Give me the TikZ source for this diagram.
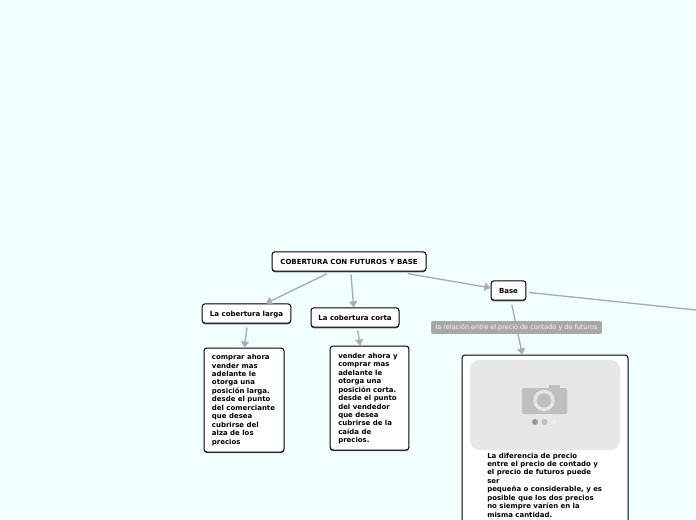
\documentclass[tikz,border=0pt]{standalone}
\usepackage{fontspec}
\setmainfont{DejaVu Sans}
\usetikzlibrary{arrows.meta,shadows}
\definecolor{bgc}{HTML}{F1FFFE}
\definecolor{edgec}{HTML}{A9ACAA}
\definecolor{labc}{HTML}{A8A8A8}
\definecolor{photoc}{HTML}{E7E7E8}
\definecolor{camc}{HTML}{BFBFC0}
\tikzset{
  x=0.75pt,y=-0.75pt,
  box/.style={draw=black,line width=0.75pt,fill=white,rounded corners=2.2pt,inner sep=0pt,
    drop shadow={shadow xshift=0pt,shadow yshift=-0.9pt,opacity=.7,fill=black!80}},
  titlebox/.style={box,font=\fontsize{5.25}{6}\selectfont\bfseries,align=center,text height=5.2pt,text depth=1pt},
  bodytxt/.style={font=\fontsize{5.22}{6.35}\selectfont\bfseries,align=left,anchor=north west,inner sep=0pt},
  conn/.style={draw=edgec,line width=1pt,-{Triangle[length=4.5pt,width=6pt]}},
  plain/.style={draw=edgec,line width=1pt},
  lab/.style={fill=labc,rounded corners=1pt,text=white!92!labc,inner sep=0pt,font=\fontsize{4.85}{6}\selectfont}
}
\begin{document}
\begin{tikzpicture}
\path[use as bounding box] (0,0) rectangle (696,520);
\clip (0,0) rectangle (696,520);
\fill[bgc] (0,0) rectangle (696,520);

\node[titlebox,minimum width=115.5pt,minimum height=14.5pt] (root) at (349,261.5) {COBERTURA CON FUTUROS Y BASE};
\node[titlebox,minimum width=66.5pt,minimum height=14.5pt] (larga) at (246.5,313.5) {La cobertura larga};
\node[titlebox,minimum width=66pt,minimum height=14.5pt] (corta) at (355,317.5) {La cobertura corta};
\node[titlebox,minimum width=26.2pt,minimum height=14.5pt] (base) at (508.5,290.5) {Base};
\node[box,minimum width=60pt,minimum height=78pt] (cl) at (244,400) {};
\node[box,minimum width=59.2pt,minimum height=78pt] (cc) at (369.5,398) {};
\node[box,minimum width=124.5pt,minimum height=135pt] (bb) at (545,445) {};

\node[bodytxt] (tl) at (211.7,354) {comprar ahora\\vender mas\\adelante le\\otorga una\\posición larga.\\desde el punto\\del comerciante\\que desea\\cubrirse del\\alza de los\\precios};
\node[bodytxt] (tc) at (338,352.7) {vender ahora y\\comprar mas\\adelante le\\otorga una\\posición corta.\\desde el punto\\del vendedor\\que desea\\cubrirse de la\\caída de\\precios.};
\node[bodytxt] (tb) at (487,452.5) {La diferencia de precio\\entre el precio de contado y\\el precio de futuros puede\\ser\\pequeña o considerable, y es\\posible que los dos precios\\no siempre varíen en la\\misma cantidad.};

% photo placeholder
\fill[photoc,rounded corners=7pt] (470,360) rectangle (620,450);
\fill[camc,rounded corners=1pt] (522,388) rectangle (567,414);
\fill[camc] (549,385) rectangle (560,389);
\draw[photoc,line width=2.4pt] (544,400.5) circle (9);
\fill[camc!80!black] (535,422) circle (3);
\fill[camc] (544.5,422) circle (3);
\fill[photoc!70!white] (554,422) circle (3);

\coordinate (offr) at (696,310);
\draw[conn] ([xshift=-16.5pt,yshift=-1.5pt]root.south) -- ([xshift=14.6pt]larga.north);
\draw[conn] ([xshift=1.5pt,yshift=-2pt]root.south) -- ([xshift=-1pt]corta.north);
\draw[conn] ([xshift=44pt,yshift=-1.5pt]root.south) -- ([yshift=2pt]base.west);
\draw[conn] ([xshift=0.3pt,yshift=-3pt]larga.south) -- ([xshift=0.3pt]cl.north);
\draw[conn] ([xshift=2pt,yshift=-2pt]corta.south) -- ([xshift=-7pt]cc.north);
\draw[plain] ([xshift=2pt,yshift=-1.5pt]base.east) -- (offr);
\draw[conn] ([xshift=2.5pt,yshift=-3pt]base.south) -- ([xshift=-17pt]bb.north);

\node[lab,minimum width=128pt,minimum height=9.6pt] (lb) at (516.5,327.5) {la relación entre el precio de contado y de futuros};
\end{tikzpicture}
\end{document}
